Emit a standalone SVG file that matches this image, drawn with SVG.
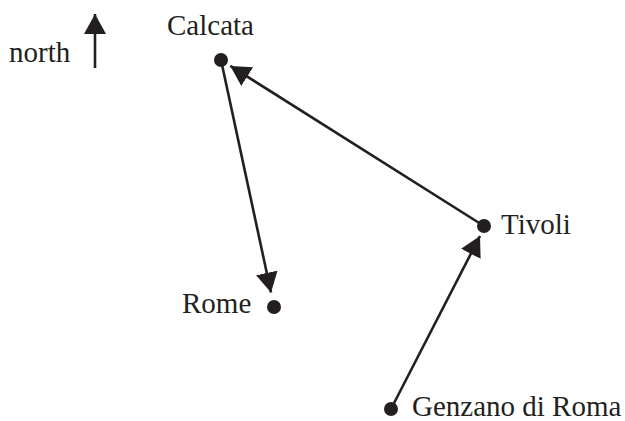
<svg xmlns="http://www.w3.org/2000/svg" width="625" height="421" viewBox="0 0 625 421">
<style>
.lbl{font-family:"Liberation Serif","Times New Roman",serif;font-size:29px;fill:#231f20}
.edge{stroke:#231f20;stroke-width:2.6;fill:none}
.dot{fill:#231f20}
</style>
<defs>
<marker id="ah" markerUnits="userSpaceOnUse" markerWidth="22" markerHeight="22" refX="20" refY="11" orient="auto">
<path d="M0,0 L20,11 L0,22 Z" fill="#231f20"/>
</marker>
</defs>
<rect width="625" height="421" fill="#fff"/>
<g id="north">
<text class="lbl" x="9" y="62">north</text>
<line class="edge" x1="95" y1="68" x2="95" y2="14" marker-end="url(#ah)"/>
</g>
<g id="connectors">
<line class="edge" x1="221" y1="60" x2="271" y2="292.5" marker-end="url(#ah)"/>
<line class="edge" x1="484" y1="226" x2="230.3" y2="65.9" marker-end="url(#ah)"/>
<line class="edge" x1="391" y1="409" x2="480" y2="236" marker-end="url(#ah)"/>
</g>
<g id="calcata">
<circle class="dot" cx="221" cy="60" r="7"/>
<text class="lbl" x="167" y="35">Calcata</text>
</g>
<g id="rome">
<circle class="dot" cx="274" cy="307" r="7"/>
<text class="lbl" x="182" y="313">Rome</text>
</g>
<g id="tivoli">
<circle class="dot" cx="484" cy="226" r="7"/>
<text class="lbl" x="501" y="234">Tivoli</text>
</g>
<g id="genzano">
<circle class="dot" cx="391" cy="409" r="7"/>
<text class="lbl" x="412" y="416">Genzano di Roma</text>
</g>
</svg>
